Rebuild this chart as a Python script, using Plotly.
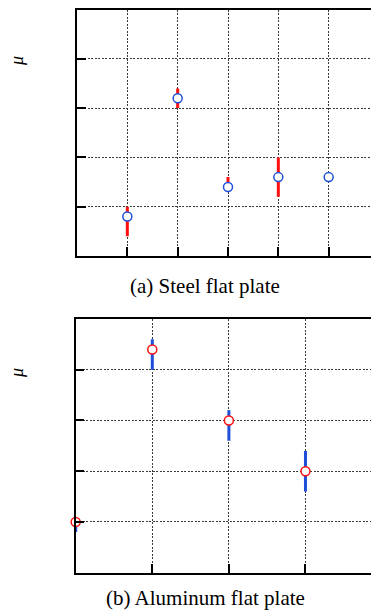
import plotly.graph_objects as go

# Top panel (a) Steel flat plate
steel_x = [1, 2, 3, 4, 5]
steel_mu = [0.8, 3.2, 1.4, 1.6, 1.6]
steel_err_plus = [0.2, 0.2, 0.2, 0.4, 0.0]
steel_err_minus = [0.4, 0.2, 0.05, 0.4, 0.0]

# Bottom panel (b) Aluminum flat plate
alu_x = [0, 1, 2, 3, 4]
alu_mu = [1.0, 4.4, 3.0, 2.0, 1.6]
alu_err_plus = [0.05, 0.2, 0.2, 0.4, 0.0]
alu_err_minus = [0.2, 0.4, 0.4, 0.4, 0.0]

captions = ["(a) Steel flat plate", "(b) Aluminum flat plate"]
ylabel = "μ"

# page body has an 8px default margin; figure sized to fill the rest of the window
OFF = 8
W, H = 379 - OFF, 610 - OFF
BLUE = "#1f4fd8"
RED = "#ff1010"


def px(x):
    return (x - OFF) / W


def py(y):
    return (H - (y - OFF)) / H


fig = go.Figure()
fig.add_trace(go.Scatter(
    x=steel_x, y=steel_mu, mode="markers", xaxis="x", yaxis="y",
    marker=dict(symbol="circle", size=9, color="white", line=dict(color=BLUE, width=1.5)),
    error_y=dict(type="data", symmetric=False, array=steel_err_plus, arrayminus=steel_err_minus,
                 color=RED, thickness=3, width=0),
    cliponaxis=False, showlegend=False, hoverinfo="skip"))
fig.add_trace(go.Scatter(
    x=alu_x, y=alu_mu, mode="markers", xaxis="x2", yaxis="y2",
    marker=dict(symbol="circle", size=9, color="white", line=dict(color=RED, width=1.5)),
    error_y=dict(type="data", symmetric=False, array=alu_err_plus, arrayminus=alu_err_minus,
                 color=BLUE, thickness=3, width=0),
    cliponaxis=False, showlegend=False, hoverinfo="skip"))

axis_common = dict(
    showline=True, linecolor="black", linewidth=1.5,
    ticks="inside", ticklen=9, tickwidth=1.5, tickcolor="black",
    showticklabels=False, zeroline=False,
    showgrid=True, gridcolor="#3a3a3a", gridwidth=1, griddash="2px,1.5px",
    tick0=0, dtick=1, fixedrange=True,
)

fig.update_layout(
    width=W, height=H,
    margin=dict(l=0, r=0, t=0, b=0),
    paper_bgcolor="white", plot_bgcolor="white",
    xaxis=dict(axis_common, domain=[px(77), 1], range=[0, 6], mirror=True, anchor="y"),
    yaxis=dict(axis_common, domain=[py(256), py(9.5)], range=[0, 5], mirror=False, anchor="x"),
    xaxis2=dict(axis_common, domain=[px(75.7), 1], range=[0, 3.96], mirror=True, anchor="y2"),
    yaxis2=dict(axis_common, domain=[py(572.7), py(319)], range=[0, 5], mirror=False, anchor="x2"),
    annotations=[
        dict(text=captions[0], x=px(205), y=py(286), xref="paper", yref="paper",
             showarrow=False, xanchor="center", yanchor="middle",
             font=dict(family="Liberation Serif", size=21, color="black")),
        dict(text=captions[1], x=px(205), y=py(598), xref="paper", yref="paper",
             showarrow=False, xanchor="center", yanchor="middle",
             font=dict(family="Liberation Serif", size=21, color="black")),
        dict(text="<i>" + ylabel + "</i>", x=px(17), y=py(61), xref="paper", yref="paper",
             showarrow=False, xanchor="center", yanchor="middle", textangle=-90,
             font=dict(family="Liberation Serif", size=18, color="black")),
        dict(text="<i>" + ylabel + "</i>", x=px(17), y=py(373), xref="paper", yref="paper",
             showarrow=False, xanchor="center", yanchor="middle", textangle=-90,
             font=dict(family="Liberation Serif", size=18, color="black")),
    ],
)

fig.write_html("out.html", config={"displayModeBar": False})
